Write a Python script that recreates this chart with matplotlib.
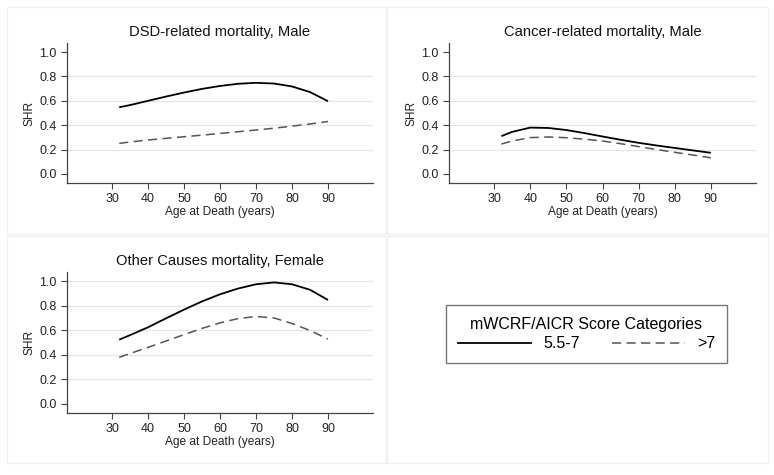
import matplotlib
matplotlib.use('Agg')
import matplotlib.pyplot as plt
from matplotlib.lines import Line2D
from matplotlib.patches import Rectangle

plt.rcParams['font.family'] = ['Liberation Sans', 'DejaVu Sans']

# ---------------- data ----------------
ages = [32, 35, 40, 45, 50, 55, 60, 65, 70, 75, 80, 85, 90]

dsd_mid = [0.547, 0.565, 0.600, 0.635, 0.668, 0.698, 0.722, 0.740, 0.748, 0.742, 0.718, 0.672, 0.597]
dsd_high = [0.250, 0.262, 0.278, 0.292, 0.305, 0.318, 0.332, 0.346, 0.360, 0.375, 0.392, 0.410, 0.430]

cancer_mid = [0.310, 0.345, 0.380, 0.377, 0.360, 0.335, 0.307, 0.280, 0.255, 0.233, 0.213, 0.193, 0.173]
cancer_high = [0.245, 0.270, 0.298, 0.303, 0.297, 0.285, 0.270, 0.248, 0.224, 0.200, 0.177, 0.155, 0.132]

other_mid = [0.523, 0.560, 0.624, 0.697, 0.768, 0.835, 0.893, 0.940, 0.975, 0.990, 0.975, 0.930, 0.847]
other_high = [0.379, 0.410, 0.460, 0.512, 0.564, 0.615, 0.660, 0.695, 0.712, 0.700, 0.655, 0.598, 0.528]

titles = ['DSD-related mortality, Male', 'Cancer-related mortality, Male',
          'Other Causes mortality, Female']
xticks = [30, 40, 50, 60, 70, 80, 90]
yticks = [0.0, 0.2, 0.4, 0.6, 0.8, 1.0]
legend_title = 'mWCRF/AICR Score Categories'
legend_labels = ['5.5-7', '>7']

W, H = 774, 475
DASH = (6, 3.5)
GRAY = '#555555'


def px_rect(x0, y0, x1, y1):
    """pixel box (top-left origin) -> figure fraction [l, b, w, h]"""
    return [x0 / W, 1 - y1 / H, (x1 - x0) / W, (y1 - y0) / H]


fig = plt.figure(figsize=(W / 100, H / 100), dpi=100)
fig.patch.set_facecolor('white')

# faint outer boxes of the four graph regions
for box in [(7, 7, 386, 234), (387, 7, 768, 234), (7, 236, 386, 463), (387, 236, 768, 463)]:
    l, b, w, h = px_rect(*box)
    fig.patches.append(Rectangle((l, b), w, h, transform=fig.transFigure,
                                 fill=False, edgecolor='#f0f0f0', lw=1.0))

panels = [
    (px_rect(67, 43, 373, 183), dsd_mid, dsd_high, [0.2, 0.4, 0.6, 0.8]),
    (px_rect(449, 43, 756, 183), cancer_mid, cancer_high, [0.2, 0.4, 0.6, 0.8]),
    (px_rect(67, 272, 373, 413), other_mid, other_high, [0.2, 0.4, 0.6, 0.8, 1.0]),
]

for (rect, mid, high, grid), title in zip(panels, titles):
    ax = fig.add_axes(rect)
    for g in grid:
        ax.axhline(g, color='#e6e6e6', lw=0.9, zorder=0)
    ax.plot(ages, mid, color='black', lw=1.3, solid_capstyle='butt')
    ax.plot(ages, high, color=GRAY, lw=1.1, dashes=DASH)
    ax.set_xlim(17.5, 102.5)
    ax.set_ylim(-0.075, 1.075)
    ax.set_xticks(xticks)
    ax.set_yticks(yticks)
    ax.set_yticklabels([f'{v:.1f}' for v in yticks])
    for s in ['top', 'right']:
        ax.spines[s].set_visible(False)
    for s in ['left', 'bottom']:
        ax.spines[s].set_color('#444444')
        ax.spines[s].set_linewidth(0.9)
    ax.tick_params(axis='both', length=4, width=0.8, color='#444444',
                   labelsize=9, labelcolor='#222222', pad=3.5)
    ax.set_xlabel('Age at Death (years)', fontsize=8.6, labelpad=0.5, color='#222222')
    ax.set_ylabel('SHR', fontsize=8.6, labelpad=3, color='#222222')
    ax.set_title(title, fontsize=10.6, pad=5, color='#111111')

handles = [Line2D([], [], color='black', lw=1.3),
           Line2D([], [], color=GRAY, lw=1.1, dashes=DASH)]
leg = fig.legend(handles, legend_labels, title=legend_title, ncol=2,
                 loc='center', bbox_to_anchor=(586.5 / W, 1 - 334 / H),
                 fontsize=11.5, title_fontsize=11.5, frameon=True, fancybox=False,
                 handlelength=4.6, handletextpad=0.75, columnspacing=2.0,
                 borderpad=0.75, labelspacing=0.3, borderaxespad=0)
leg.get_frame().set_edgecolor('#555555')
leg.get_frame().set_linewidth(1.0)

fig.savefig('out.png', dpi=100)
